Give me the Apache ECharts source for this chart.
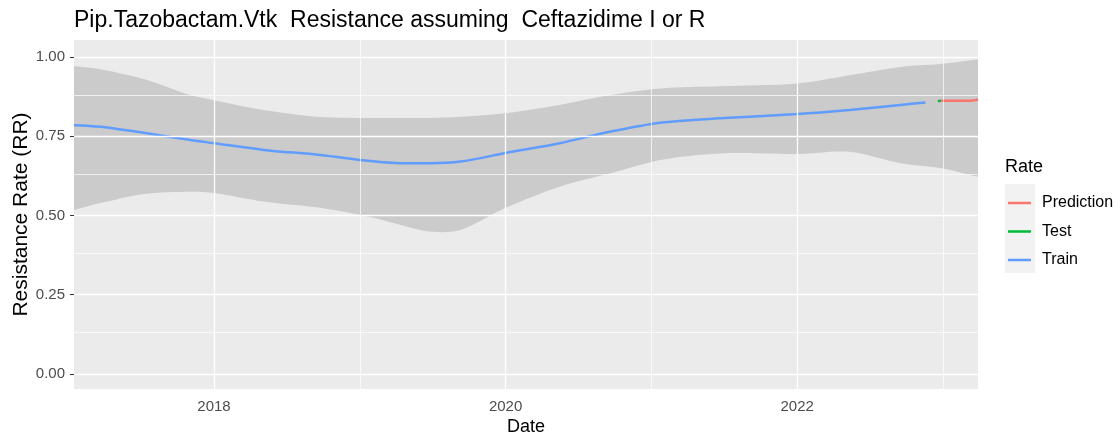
<!DOCTYPE html>
<html>
<head>
<meta charset="utf-8">
<script src="https://cdn.jsdelivr.net/npm/echarts@6/dist/echarts.min.js"></script>
<style>
  html, body { margin: 0; padding: 0; background: #fff; }
  #main { width: 1120px; height: 438px; }
</style>
</head>
<body>
<div id="main"></div>
<script>
var dom = document.getElementById("main");
var myChart = echarts.init(dom);
var option = null;

// confidence band (decimal years)
var bandDates = [2017.04, 2017.22, 2017.52, 2017.84, 2018.0, 2018.34, 2018.73, 2019.07, 2019.28, 2019.48, 2019.69,
                 2020.0, 2020.37, 2020.72, 2021.06, 2021.47, 2022.0, 2022.36, 2022.71, 2022.98, 2023.24];
var bandUpper = [0.972, 0.962, 0.931, 0.880, 0.864, 0.833, 0.811, 0.808, 0.808, 0.808, 0.812,
                 0.823, 0.849, 0.880, 0.901, 0.908, 0.917, 0.943, 0.969, 0.978, 0.993];
var bandLower = [0.517, 0.539, 0.568, 0.575, 0.571, 0.544, 0.524, 0.495, 0.470, 0.449, 0.454,
                 0.524, 0.591, 0.633, 0.675, 0.696, 0.694, 0.701, 0.665, 0.650, 0.622];

// train line
var trainDates = [2017.04, 2017.22, 2017.52, 2017.84, 2018.0, 2018.34, 2018.73, 2019.07, 2019.28, 2019.48,
                  2019.69, 2020.0, 2020.37, 2020.72, 2021.06, 2021.47, 2022.0, 2022.36, 2022.71, 2022.88];
var trainValues = [0.785, 0.780, 0.761, 0.738, 0.728, 0.707, 0.691, 0.672, 0.665, 0.665,
                   0.670, 0.697, 0.728, 0.765, 0.793, 0.807, 0.820, 0.833, 0.849, 0.857];

var testDates = [2022.965, 2022.985];
var testValues = [0.861, 0.862];

var predDates = [2022.98, 2023.10, 2023.20, 2023.24];
var predValues = [0.862, 0.862, 0.863, 0.866];

var xTicks = [2018, 2020, 2022];
var xMinor = [2017, 2019, 2021, 2023];
var yTicks = [0, 0.25, 0.5, 0.75, 1];
var yMinor = [0.125, 0.375, 0.625, 0.875];

function zip(xs, ys) {
    return xs.map(function (x, i) { return [x, ys[i]]; });
}

var font = '"Liberation Sans", Arial, sans-serif';

var gridLines = [];
xTicks.forEach(function (v) { gridLines.push({ xAxis: v, lineStyle: { width: 1.3 } }); });
xMinor.forEach(function (v) { gridLines.push({ xAxis: v, lineStyle: { width: 0.7 } }); });
yTicks.forEach(function (v) { gridLines.push({ yAxis: v, lineStyle: { width: 1.3 } }); });
yMinor.forEach(function (v) { gridLines.push({ yAxis: v, lineStyle: { width: 0.7 } }); });

// ribbon: upper edge left->right, lower edge right->left (corners doubled so they stay sharp)
function renderBand(params, api) {
    if (params.dataIndex !== 0) return null;
    var pts = [];
    var n = bandDates.length;
    for (var i = 0; i < n; i++) {
        pts.push(api.coord([bandDates[i], bandUpper[i]]));
        if (i === 0 || i === n - 1) pts.push(api.coord([bandDates[i], bandUpper[i]]));
    }
    for (var j = n - 1; j >= 0; j--) {
        pts.push(api.coord([bandDates[j], bandLower[j]]));
        if (j === 0 || j === n - 1) pts.push(api.coord([bandDates[j], bandLower[j]]));
    }
    var cs = params.coordSys;
    return {
        type: 'polygon',
        shape: {
            points: pts,
            smooth: 0.3,
            smoothConstraint: [[cs.x, cs.y], [cs.x + cs.width, cs.y + cs.height]]
        },
        style: { fill: '#CBCBCB' },
        silent: true
    };
}

option = {
    animation: false,
    title: {
        text: 'Pip.Tazobactam.Vtk  Resistance assuming  Ceftazidime I or R',
        left: 74,
        top: 9,
        padding: 0,
        textStyle: { color: '#000', fontFamily: font, fontSize: 23, fontWeight: 'normal' }
    },
    legend: {
        orient: 'vertical',
        left: 1008,
        top: 195,
        itemWidth: 23,
        itemHeight: 2.5,
        itemGap: 12.5,
        icon: 'rect',
        padding: 0,
        data: ['Prediction', 'Test', 'Train'],
        textStyle: { color: '#000', fontFamily: font, fontSize: 16, padding: [0, 0, 0, 6] }
    },
    graphic: [
        { type: 'text', left: 1005, top: 158, style: { text: 'Rate', fontFamily: font, fontSize: 18, fill: '#000' } },
        { type: 'rect', left: 1005, top: 184, shape: { width: 30, height: 89 }, style: { fill: '#F2F2F2' }, z: -1 }
    ],
    grid: {
        left: 74, top: 40, right: 142, bottom: 49,
        outerBoundsMode: 'none',
        containLabel: false,
        show: true, backgroundColor: '#EBEBEB', borderWidth: 0
    },
    xAxis: {
        type: 'value',
        min: 2017.04,
        max: 2023.24,
        name: 'Date',
        nameLocation: 'middle',
        nameGap: 29,
        nameMoveOverlap: false,
        nameTextStyle: { color: '#000', fontFamily: font, fontSize: 18 },
        axisLine: { show: false },
        axisTick: { show: true, length: 4, customValues: xTicks, lineStyle: { color: '#333' } },
        axisLabel: {
            customValues: xTicks, margin: 10, color: '#4D4D4D', fontFamily: font, fontSize: 15,
            formatter: function (v) { return String(v); }
        },
        splitLine: { show: false }
    },
    yAxis: {
        type: 'value',
        min: -0.048,
        max: 1.054,
        name: 'Resistance Rate (RR)',
        nameLocation: 'middle',
        nameGap: 42,
        nameMoveOverlap: false,
        nameTextStyle: { color: '#000', fontFamily: font, fontSize: 21 },
        axisLine: { show: false },
        axisTick: { show: true, length: 4, customValues: yTicks, lineStyle: { color: '#333' } },
        axisLabel: {
            customValues: yTicks, margin: 9, color: '#4D4D4D', fontFamily: font, fontSize: 15,
            formatter: function (v) { return v.toFixed(2); }
        },
        splitLine: { show: false }
    },
    series: [
        {
            name: 'grid',
            type: 'line',
            data: [],
            z: 0,
            silent: true,
            markLine: {
                silent: true,
                symbol: 'none',
                label: { show: false },
                lineStyle: { color: '#FFFFFF', type: 'solid' },
                data: gridLines
            }
        },
        {
            name: 'band',
            type: 'custom',
            renderItem: renderBand,
            data: bandDates.map(function (d, i) { return [d, bandLower[i], bandUpper[i]]; }),
            encode: { x: 0, y: [1, 2] },
            silent: true,
            z: 1
        },
        {
            name: 'Train',
            type: 'line',
            data: zip(trainDates, trainValues),
            smooth: 0.3,
            symbol: 'none',
            color: '#619CFF',
            lineStyle: { width: 2.5, color: '#619CFF' },
            z: 3
        },
        {
            name: 'Test',
            type: 'line',
            data: zip(testDates, testValues),
            symbol: 'none',
            color: '#00BA38',
            lineStyle: { width: 2.5, color: '#00BA38' },
            z: 4
        },
        {
            name: 'Prediction',
            type: 'line',
            data: zip(predDates, predValues),
            smooth: 0.3,
            symbol: 'none',
            color: '#F8766D',
            lineStyle: { width: 2.5, color: '#F8766D' },
            z: 3
        }
    ]
};

if (option && typeof option === "object") {
    myChart.setOption(option, true);
}
</script>
</body>
</html>
